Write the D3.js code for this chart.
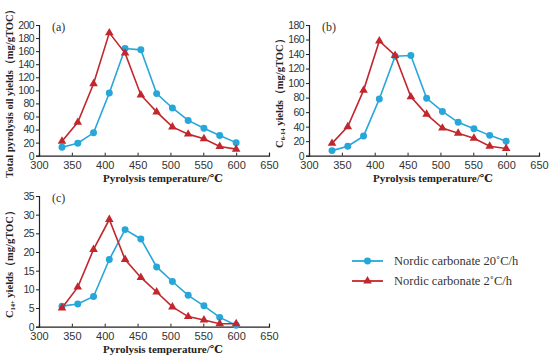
<!DOCTYPE html>
<html>
<head>
<meta charset="utf-8">
<script src="https://cdn.jsdelivr.net/npm/d3@7"></script>
<style>
  body { margin: 0; background: #fff; }
  svg { display: block; font-family: "Liberation Serif", "DejaVu Serif", serif; }
</style>
</head>
<body>
<svg id="chart" width="550" height="359"></svg>
<script>
(function () {
  'use strict';

  // pyrolysis temperatures (°C)
  var temps = [335, 359, 383, 407, 431, 455, 479, 503, 527, 551, 575, 600];

  // (a) total pyrolysis oil yields, mg/gTOC
  var totalFast = [13, 19, 35, 96, 164, 162, 95, 73, 54, 42, 31, 20];
  var totalSlow = [22, 51, 110, 188, 157, 93, 67, 44, 33, 26, 14, 10];

  // (b) C6-14 yields
  var c614Fast = [7, 13, 27, 78, 137, 138, 79, 61, 46, 37, 28, 20];
  var c614Slow = [17, 40, 90, 158, 138, 81, 57, 38, 31, 24, 13, 10];

  // (c) C14+ yields
  var c14Fast = [5.5, 6.1, 8.1, 18, 26, 23.5, 16, 12.1, 8.4, 5.6, 2.5, 0.4];
  var c14Slow = [5.0, 10.6, 20.7, 28.7, 18, 13.2, 9.3, 5.3, 2.7, 1.8, 0.8, 0.8];

  var xTicks = [300, 350, 400, 450, 500, 550, 600, 650];
  var legendLabels = ['Nordic carbonate 20\u02daC/h', 'Nordic carbonate 2\u02daC/h'];

  var blue = '#27a6d9', red = '#c1272d';
  var svg = d3.select('#chart');

  function panel(opt) {
    var x = d3.scaleLinear().domain([300, 650]).range([opt.left, opt.left + 230]);
    var y = d3.scaleLinear().domain([0, opt.ymax]).range([opt.bottom, opt.bottom - 130.7]);
    var g = svg.append('g');

    // axes
    var xa = g.append('g').attr('transform', 'translate(0,' + opt.bottom + ')')
      .call(d3.axisBottom(x).tickValues(xTicks).tickSize(-3).tickPadding(6));
    var ya = g.append('g').attr('transform', 'translate(' + opt.left + ',0)')
      .call(d3.axisLeft(y).ticks(opt.ymax / opt.ystep).tickSize(3).tickPadding(2));
    [xa, ya].forEach(function (a) {
      a.select('.domain').attr('stroke', '#222').attr('stroke-width', 1.2);
      a.selectAll('.tick line').attr('stroke', '#222');
      a.selectAll('.tick text').attr('fill', '#333').style('font-size', '11px');
    });
    ya.selectAll('.tick text').style('font-size', '10.5px').style('letter-spacing', '-0.6px');

    // panel letter
    g.append('text').attr('x', opt.left + 13).attr('y', y(opt.ymax) + 6)
      .style('font-size', '12px').attr('fill', '#333').text(opt.tag);

    // x title
    g.append('text').attr('x', opt.left + 124).attr('y', opt.bottom + 26)
      .attr('text-anchor', 'middle').style('font-size', '11px').style('font-weight', 'bold')
      .attr('fill', '#222').text('Pyrolysis temperature/\u2103');

    // y title
    var yt = g.append('text')
      .attr('transform', 'translate(' + (opt.left - 26) + ',' + (opt.bottom - 65) + ') rotate(-90)')
      .attr('text-anchor', 'middle').style('font-size', '10.5px').style('font-weight', 'bold')
      .attr('fill', '#222');
    opt.title(yt);

    var line = d3.line().x(function (d) { return x(d[0]); }).y(function (d) { return y(d[1]); });

    [[opt.fast, blue, 'circle'], [opt.slow, red, 'triangle']].forEach(function (s) {
      var pts = temps.map(function (t, i) { return [t, s[0][i]]; });
      g.append('path').datum(pts).attr('d', line).attr('fill', 'none')
        .attr('stroke', s[1]).attr('stroke-width', 1.6);
      g.selectAll(null).data(pts).enter().append('path')
        .attr('transform', function (d) { return 'translate(' + x(d[0]) + ',' + y(d[1]) + ')'; })
        .attr('d', d3.symbol().type(s[2] === 'circle' ? d3.symbolCircle : d3.symbolTriangle).size(s[2] === 'circle' ? 38 : 32))
        .attr('fill', s[1]);
    });
  }

  panel({
    left: 39, bottom: 155.7, ymax: 200, ystep: 20, tag: '(a)',
    fast: totalFast, slow: totalSlow,
    title: function (t) { t.text('Total pyrolysis oil yields\uff08mg/gTOC\uff09'); }
  });

  panel({
    left: 309, bottom: 155.7, ymax: 180, ystep: 20, tag: '(b)',
    fast: c614Fast, slow: c614Slow,
    title: function (t) {
      t.append('tspan').text('C');
      t.append('tspan').attr('dy', 2).style('font-size', '6.5px').text('6-14');
      t.append('tspan').attr('dy', -2).text(' yields\uff08mg/gTOC\uff09');
    }
  });

  panel({
    left: 39, bottom: 326.7, ymax: 35, ystep: 5, tag: '(c)',
    fast: c14Fast, slow: c14Slow,
    title: function (t) {
      t.append('tspan').text('C');
      t.append('tspan').attr('dy', 2).style('font-size', '6.5px').text('14+');
      t.append('tspan').attr('dy', -2).text(' yields\uff08mg/gTOC\uff09');
    }
  });

  // legend
  var lg = svg.append('g');
  [[blue, d3.symbolCircle, 38], [red, d3.symbolTriangle, 32]].forEach(function (s, i) {
    var yy = 261 + i * 20;
    lg.append('line').attr('x1', 352).attr('x2', 383).attr('y1', yy).attr('y2', yy)
      .attr('stroke', s[0]).attr('stroke-width', 1.8);
    lg.append('path').attr('transform', 'translate(367.5,' + yy + ')')
      .attr('d', d3.symbol().type(s[1]).size(s[2])).attr('fill', s[0]);
    lg.append('text').attr('x', 394).attr('y', yy + 4).style('font-size', '12.5px')
      .attr('fill', '#333').text(legendLabels[i]);
  });
})();
</script>
</body>
</html>
